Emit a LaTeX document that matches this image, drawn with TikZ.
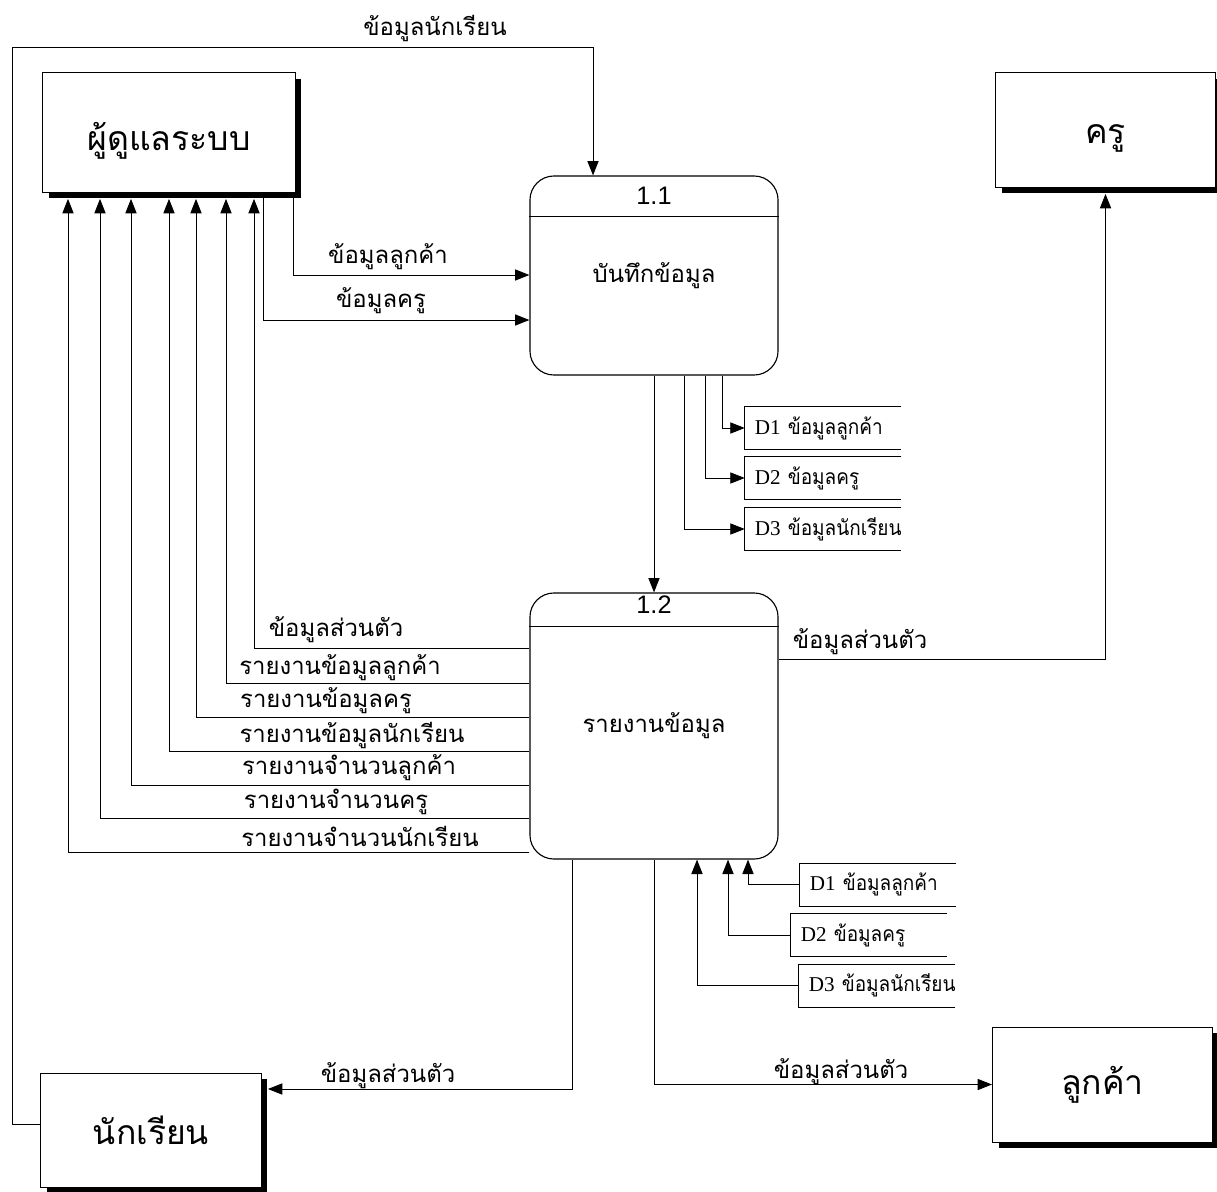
\documentclass[tikz,border=0pt]{standalone}
\usepackage{fontspec}
\setmainfont{Liberation Serif}
\newfontfamily\thai[Script=Thai]{Loma}
\newfontfamily\thaist[Script=Thai,FakeStretch=0.9]{Loma}
\newfontfamily\arial{Liberation Sans}
\usetikzlibrary{arrows.meta,shadows}

\newcommand{\lowtext}[1]{\raisebox{-0.2cm}[\height][\depth]{#1}}

\begin{document}
\begin{tikzpicture}[x=0.025cm, y=-0.025cm,
    entity/.style={draw, fill=white, line width=0.7pt, minimum width=5.5cm, minimum height=2.85cm,
      font=\thai\fontsize{24}{28}\selectfont,
      drop shadow={shadow xshift=0.16cm, shadow yshift=-0.16cm, fill=black, opacity=1}},
    proc/.style={draw, fill=white, rounded corners=0.6cm, line width=0.8pt, minimum width=6.2cm,
      font=\thai\fontsize{17}{20}\selectfont},
    store/.style={inner xsep=0.25cm, inner ysep=0pt, text width=3.4cm, minimum height=1.06cm,
      align=left, font=\fontsize{15}{18}\selectfont},
    flow/.style={font=\thai\fontsize{17}{20}\selectfont, inner sep=1pt},
    num/.style={font=\arial\fontsize{18}{21}\selectfont},
    line/.style={line width=0.6pt},
    toshadow/.style={shorten >=0.16cm},
    >={Triangle[length=0.36cm,width=0.28cm]}]
\useasboundingbox (0,0) rectangle (1217,1191);

% Entities
\node[entity, minimum width=6.3cm, minimum height=2.975cm] (admin) at (169,132.5) {\lowtext{ผู้ดูแลระบบ}};
\node[entity, minimum width=5.475cm] (teacher) at (1105.5,130) {\lowtext{ครู}};
\node[entity] (student) at (151,1130) {นักเรียน};
\node[entity, minimum height=2.875cm] (customer) at (1102.5,1084.5) {ลูกค้า};

% Processes
\node[proc, minimum height=4.975cm] (p11) at (654,275.5) {บันทึกข้อมูล};
\node[proc, minimum height=6.65cm] (p12) at (654,726) {รายงานข้อมูล};
\draw[line] (p11.west |- 0,216) -- (p11.east |- 0,216);
\draw[line] (p12.west |- 0,626) -- (p12.east |- 0,626);
\node[num] (n11) at (654,196) {1.1};
\node[num] (n12) at (654,605) {1.2};

% Data stores
\node[store] (d1) at (823,428) {\mbox{D1 {\thaist ข้อมูลลูกค้า}}};
\node[store] (d2) at (823,478) {\mbox{D2 {\thaist ข้อมูลครู}}};
\node[store] (d3) at (823,529) {\mbox{D3 {\thaist ข้อมูลนักเรียน}}};
\node[store] (e1) at (878,884.5) {\mbox{D1 {\thaist ข้อมูลลูกค้า}}};
\node[store] (e2) at (869,935) {\mbox{D2 {\thaist ข้อมูลครู}}};
\node[store] (e3) at (877,985.5) {\mbox{D3 {\thaist ข้อมูลนักเรียน}}};
\foreach \s in {d1,d2,d3,e1,e2,e3}
  \draw[line] (\s.north east) -| (\s.south west) -- (\s.south east);

% Into 1.1
\draw[line,->] (student.west |- 0,1124) -| (12,47) -| (p11.north -| 593,0);
\node[flow] (lstu) at (435,28) {ข้อมูลนักเรียน};
\draw[line,->] (admin.south -| 293,0) |- (p11.west |- 0,275);
\node[flow] (lcus) at (388,257) {ข้อมูลลูกค้า};
\draw[line,->] (admin.south -| 263,0) |- (p11.west |- 0,320);
\node[flow] (ltea) at (381,301) {ข้อมูลครู};

% 1.1 to stores and 1.2
\draw[line,->] (p11.south) -- (p12.north);
\draw[line,->] (p11.south -| 722,0) |- (d1.west);
\draw[line,->] (p11.south -| 705,0) |- (d2.west);
\draw[line,->] (p11.south -| 684,0) |- (d3.west);

% Reports back to admin
\foreach \x/\y/\t/\lx/\ly in {254/648/ข้อมูลส่วนตัว/336/630,
    226/683/รายงานข้อมูลลูกค้า/340/668,
    196/717/รายงานข้อมูลครู/326/701,
    169/751/รายงานข้อมูลนักเรียน/352/735,
    131/785/รายงานจำนวนลูกค้า/349/768,
    100/818/รายงานจำนวนครู/336/802,
    68/852/รายงานจำนวนนักเรียน/360/836}
{
  \draw[line,->,toshadow] (p12.west |- 0,\y) -| (admin.south -| \x,0);
  \node[flow] (r\x) at (\lx,\ly) {\t};
}

% Out of 1.2
\draw[line,->,toshadow] (p12.east |- 0,659) -| (teacher.south);
\node[flow] (lper1) at (860,642) {ข้อมูลส่วนตัว};
\draw[line,->,toshadow] (p12.south -| 572,0) |- (student.east |- 0,1089);
\node[flow] (lper2) at (388,1076) {ข้อมูลส่วนตัว};
\draw[line,->] (p12.south -| 654,0) |- (customer.west);
\node[flow] (lper3) at (841,1072) {ข้อมูลส่วนตัว};

% Stores into 1.2
\draw[line,->] (e1.west) -| (p12.south -| 748,0);
\draw[line,->] (e2.west) -| (p12.south -| 728,0);
\draw[line,->] (e3.west) -| (p12.south -| 697,0);

\end{tikzpicture}
\end{document}
